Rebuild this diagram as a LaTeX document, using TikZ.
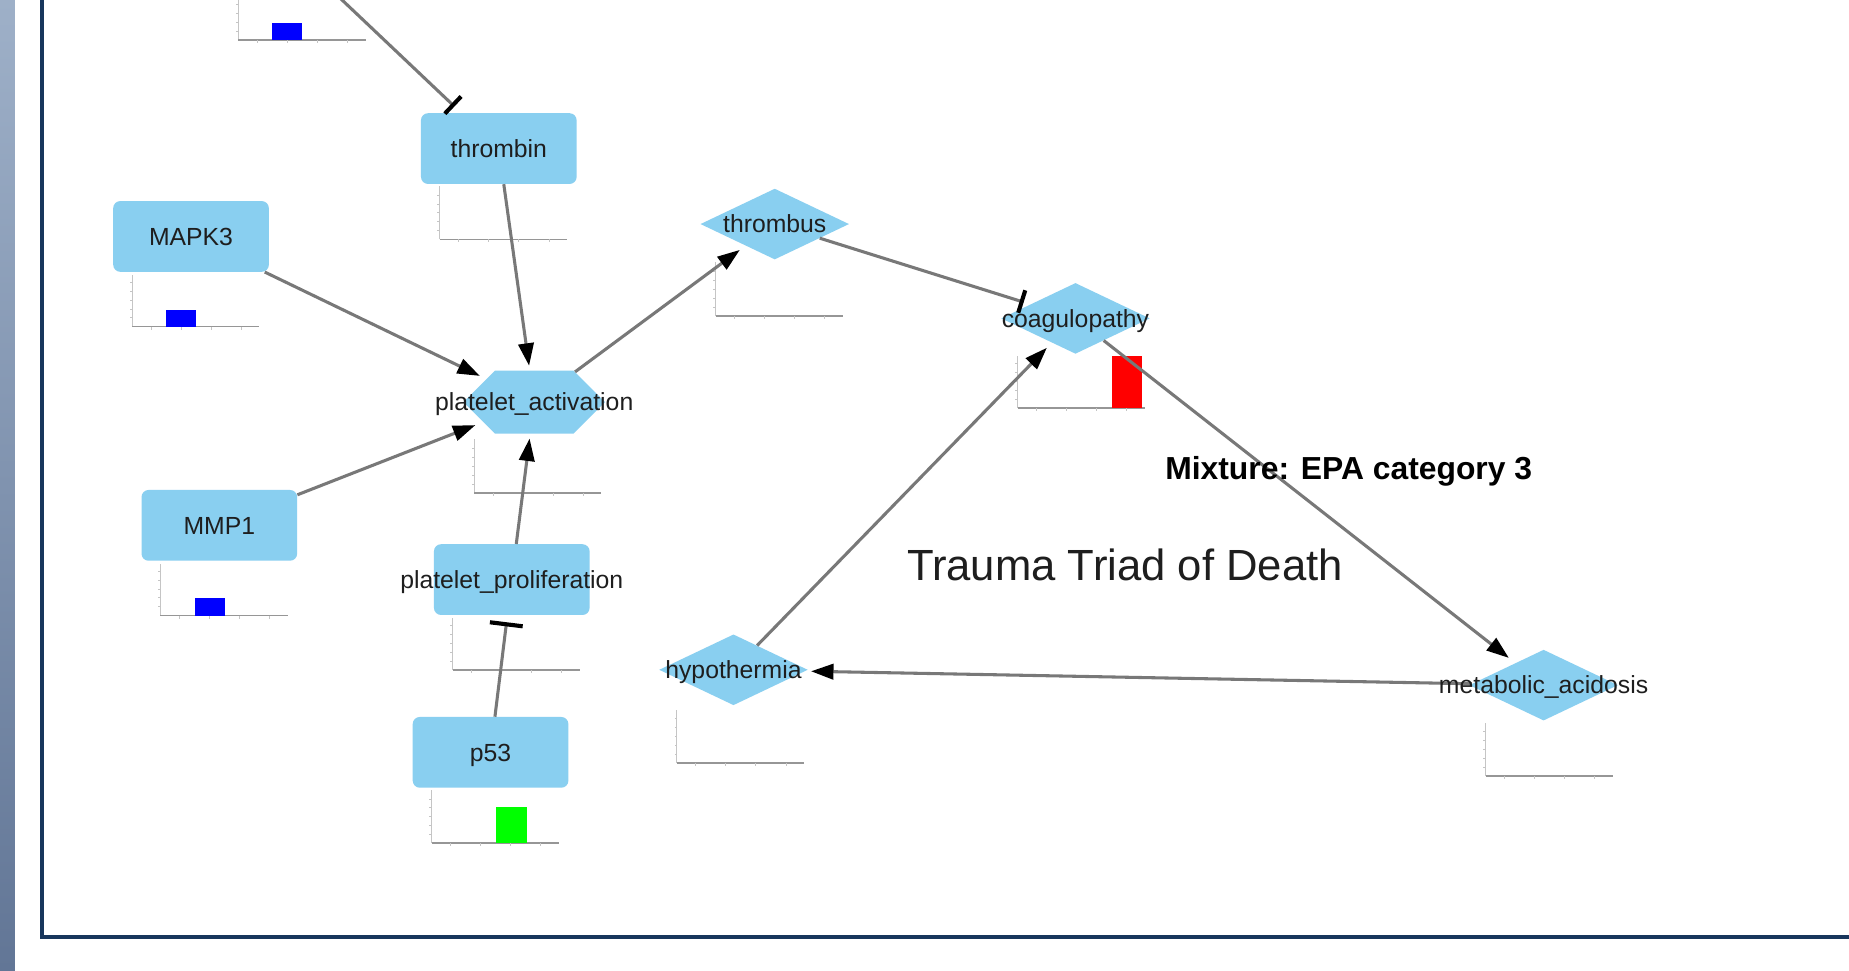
\documentclass[tikz,border=0pt]{standalone}
\usepackage{fontspec}
\setmainfont{Liberation Sans}
\usetikzlibrary{arrows.meta,shapes.geometric,shapes.symbols}
\definecolor{nodeblue}{RGB}{137,207,240}
\definecolor{edgegray}{RGB}{120,120,120}
\definecolor{framenavy}{RGB}{24,54,92}
\definecolor{axisgray}{RGB}{150,150,150}
\definecolor{txt}{RGB}{30,30,30}
\definecolor{bartop}{RGB}{158,176,200}
\definecolor{barbot}{RGB}{98,118,150}
\tikzset{
 boxnode/.style={rectangle, rounded corners=6pt, fill=nodeblue, minimum width=132pt, minimum height=60pt, inner sep=0pt},
 diamondnode/.style={diamond, fill=nodeblue, minimum width=126pt, minimum height=60pt, inner sep=0pt},
 hexnode/.style={signal, signal to=east and west, signal pointer angle=90, fill=nodeblue, minimum width=120pt, minimum height=53.5pt, inner sep=0pt},
 lbl/.style={font=\fontsize{21}{24}\selectfont, text=txt, inner sep=0pt, text height=15pt, text depth=0pt},
 act/.style={draw=edgegray, line width=2.6pt, -{Triangle[length=19pt,width=13pt,color=black]}},
 inh/.style={draw=edgegray, line width=2.6pt, -{Bar[width=20pt,line width=3.5pt,color=black]}},
 inhwide/.style={draw=edgegray, line width=2.6pt, -{Bar[width=28pt,line width=3.5pt,color=black]}},
 vaxis/.style={draw=axisgray!55, line width=0.7pt},
 haxis/.style={draw=axisgray, line width=1.3pt},
}
\newcommand{\mchart}[3]{%
  \draw[vaxis] (#1,#2) -- (#1,#3);
  \foreach \k in {1,...,5} {\draw[vaxis] (#1,{#2-\k*7.5}) -- ({#1-2},{#2-\k*7.5});}
  \draw[haxis] (#1,#2) -- ({#1+108},#2);
  \foreach \k in {16,41.5,67,92.5} {\draw[vaxis] ({#1+\k},#2) -- ({#1+\k},{#2+2.5});}
}
\begin{document}
\begin{tikzpicture}[x=1pt,y=-1pt]
\useasboundingbox (0,0) rectangle (1568,823);
\begin{scope}
\clip (0,0) rectangle (1568,823);
\fill[white] (0,0) rectangle (1568,823);
\shade[top color=bartop, bottom color=barbot] (0,0) rectangle (12.7,823);
\draw[framenavy, line width=3.4pt, line join=miter] (35.5,-10) -- (35.5,794.5) -- (1580,794.5);

% mini charts
\mchart{202}{34}{-5}
\fill[blue] (230.5,34) rectangle (256,19.5);
\mchart{373}{203}{158}
\mchart{112}{277}{233}
\fill[blue] (141,277) rectangle (166.5,263);
\mchart{402}{418}{372}
\mchart{136}{522}{478}
\fill[blue] (165,522) rectangle (190.5,507);
\mchart{384}{568}{524}
\mchart{366}{715}{670}
\fill[green] (421,715) rectangle (446.5,684);
\mchart{607}{268}{222}
\mchart{863}{346}{302}
\fill[red] (943,346) rectangle (968.5,302);
\mchart{574}{647}{602}
\mchart{1260}{658}{613}

% shapes
\node[boxnode] (thrombin) at (423,126) {};
\node[boxnode] (mapk) at (162,200.5) {};
\node[boxnode] (mmp) at (186,445.5) {};
\node[boxnode] (pp) at (434,491.5) {};
\node[boxnode] (p53) at (416,638) {};
\node[hexnode] (pa) at (453,341) {};
\node[diamondnode] (thrombus) at (657,190) {};
\node[diamondnode] (coag) at (912,270) {};
\node[diamondnode] (hypo) at (622,568) {};
\node[diamondnode] (meta) at (1309,581) {};
\coordinate (src) at (250,-38);

% connectors
\draw[inh, shorten >=8pt] (src) -- (thrombin);
\draw[act, shorten >=4pt] (thrombin) -- (pa);
\draw[act, shorten >=6pt] (mapk) -- (pa);
\draw[act, shorten >=7pt] (mmp) -- (pa);
\draw[act, shorten >=4pt] (pp) -- (pa);
\draw[inhwide, shorten >=6pt] (p53) -- (pp);
\draw[act, shorten >=6pt] (pa) -- (thrombus);
\draw[inh, shorten >=6pt] (thrombus) -- (coag);
\draw[act, shorten >=7pt] (coag) -- (meta);
\draw[act, shorten >=5pt] (meta) -- (hypo);
\draw[act, shorten >=6pt] (hypo) -- (coag);

% labels
\node[lbl] (tthrombin) at (thrombin.center) {thrombin};
\node[lbl] (tmapk) at (mapk.center) {MAPK3};
\node[lbl] (tmmp) at (mmp.center) {MMP1};
\node[lbl] (tpp) at (pp.center) {platelet\_proliferation};
\node[lbl] (tp53) at (p53.center) {p53};
\node[lbl] (tpa) at (pa.center) {platelet\_activation};
\node[lbl] (tthrombus) at (thrombus.center) {thrombus};
\node[lbl] (tcoag) at (coag.center) {coagulopathy};
\node[lbl] (thypo) at (hypo.center) {hypothermia};
\node[lbl] (tmeta) at (meta.center) {metabolic\_acidosis};

\node[font=\bfseries\fontsize{27}{30}\selectfont, text=black, anchor=west, inner sep=0pt, text height=19.4pt, text depth=0pt] (mix) at (988,397) {Mixture: EPA category 3};
\node[font=\fontsize{37}{40}\selectfont, text=txt, inner sep=0pt, text height=26.5pt, text depth=0pt] (title) at (954,479) {Trauma Triad of Death};
\end{scope}
\end{tikzpicture}
\end{document}
